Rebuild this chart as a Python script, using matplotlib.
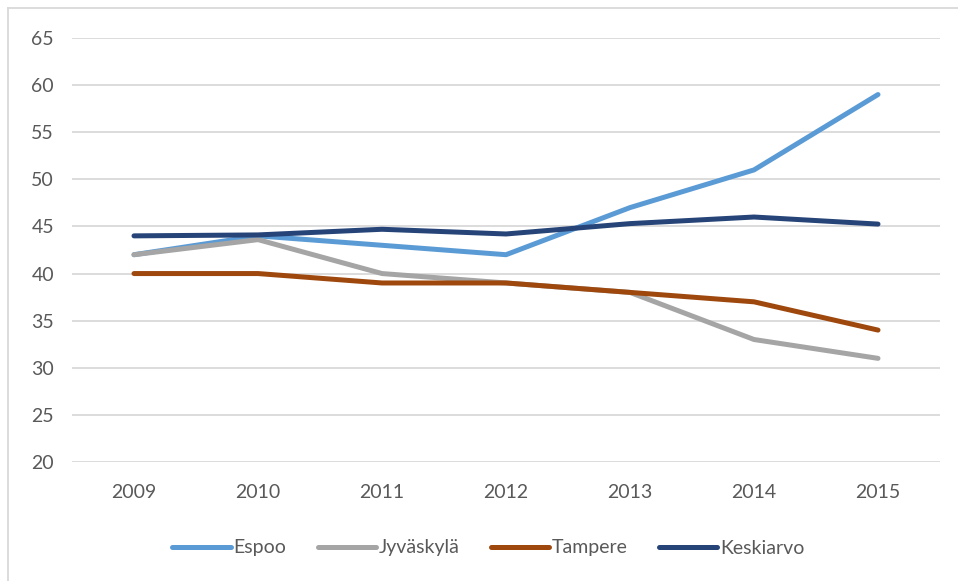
import matplotlib.pyplot as plt
from matplotlib.lines import Line2D

years = ['2009', '2010', '2011', '2012', '2013', '2014', '2015']
espoo = [42, 44, 43, 42, 47, 51, 59]
jyvaskyla = [42, 43.6, 40, 39, 38, 33, 31]
tampere = [40, 40, 39, 39, 38, 37, 34]
keskiarvo = [44, 44.1, 44.7, 44.2, 45.3, 46, 45.25]

plt.rcParams['font.family'] = ['Lato', 'DejaVu Sans']

fig = plt.figure(figsize=(9.58, 5.81), dpi=100)
ax = fig.add_axes([72 / 958, 1 - 462 / 581, 868 / 958, 424 / 581])

x = range(len(years))
ax.plot(x, espoo, color='#5B9BD5', lw=3.6, solid_capstyle='round', label='Espoo')
ax.plot(x, jyvaskyla, color='#A5A5A5', lw=3.6, solid_capstyle='round', label='Jyväskylä')
ax.plot(x, tampere, color='#9E480E', lw=3.6, solid_capstyle='round', label='Tampere')
ax.plot(x, keskiarvo, color='#264478', lw=3.6, solid_capstyle='round', label='Keskiarvo')

ax.set_xlim(-0.5, len(years) - 0.5)
ax.set_ylim(20, 65)
ax.set_yticks(range(20, 66, 5))
ax.set_xticks(list(x))
ax.set_xticklabels(years)
ax.grid(axis='y', color='#D9D9D9', lw=1.3)
ax.set_axisbelow(True)
for s in ax.spines.values():
    s.set_visible(False)
ax.tick_params(length=0, labelsize=14, colors='#595959')
ax.tick_params(axis='y', pad=13)
ax.tick_params(axis='x', pad=16)

fig.legend(loc='center', bbox_to_anchor=(0.51, 1 - 548 / 581), ncol=4, frameon=False,
           fontsize=14, handlelength=3.0, handletextpad=0.15, columnspacing=1.6,
           labelcolor='#595959')

# chart border (cut off at right and bottom)
fig.add_artist(Line2D([8 / 958, 8 / 958], [0, 1 - 8 / 581], color='#D9D9D9', lw=1.3,
                      transform=fig.transFigure))
fig.add_artist(Line2D([8 / 958, 1], [1 - 8 / 581, 1 - 8 / 581], color='#D9D9D9', lw=1.3,
                      transform=fig.transFigure))

fig.savefig('out.png', dpi=100)
